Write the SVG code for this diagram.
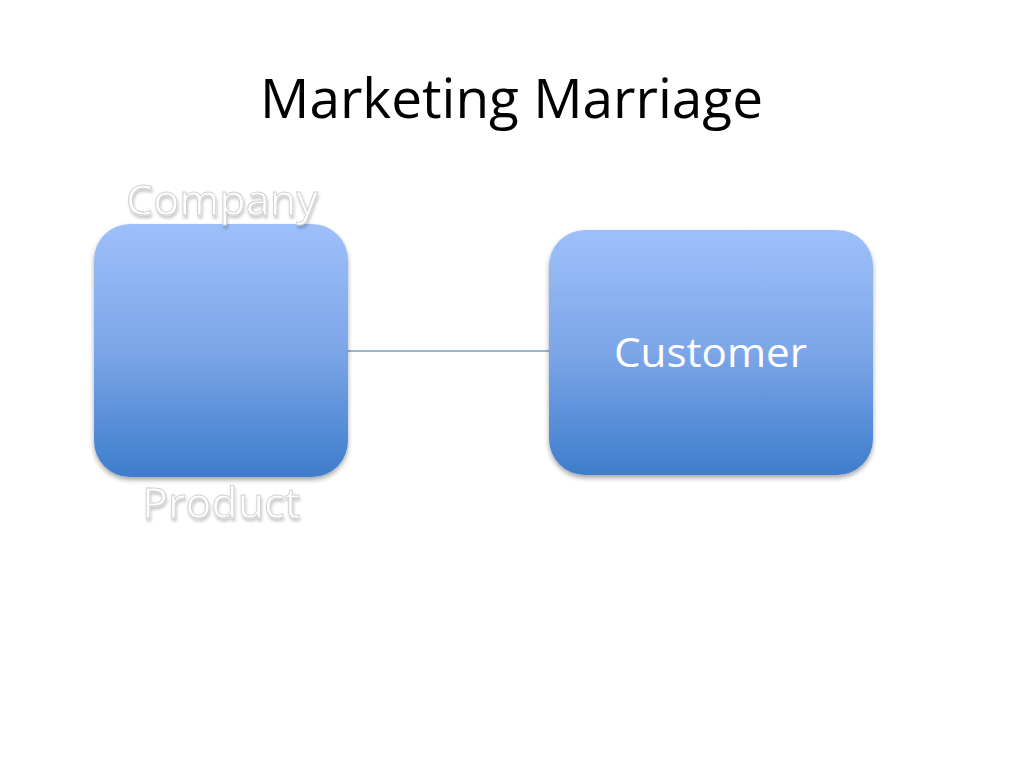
<svg xmlns="http://www.w3.org/2000/svg" width="1024" height="768" viewBox="0 0 1024 768">
  <defs>
    <linearGradient id="boxGrad" x1="0" y1="0" x2="0" y2="1">
      <stop offset="0" stop-color="#9DC0FA"/>
      <stop offset="0.5" stop-color="#7CA6E8"/>
      <stop offset="1" stop-color="#3E7DCC"/>
    </linearGradient>
    <filter id="boxShadow" x="-10%" y="-10%" width="120%" height="125%">
      <feGaussianBlur in="SourceAlpha" stdDeviation="2.5"/>
      <feOffset dx="0" dy="3" result="b"/>
      <feComponentTransfer><feFuncA type="linear" slope="0.35"/></feComponentTransfer>
      <feMerge><feMergeNode/><feMergeNode in="SourceGraphic"/></feMerge>
    </filter>
    <filter id="textShadow" x="-10%" y="-20%" width="120%" height="150%">
      <feGaussianBlur in="SourceAlpha" stdDeviation="1.5"/>
      <feOffset dx="1" dy="3"/>
      <feComponentTransfer><feFuncA type="linear" slope="0.22"/></feComponentTransfer>
      <feMerge><feMergeNode/><feMergeNode in="SourceGraphic"/></feMerge>
    </filter>
  </defs>
  <style>
    .title { font-family: "Open Sans", "Noto Sans", "Liberation Sans", sans-serif; font-size: 55px; fill: #000; }
    .box { fill: url(#boxGrad); filter: url(#boxShadow); }
    .inner { font-family: "Open Sans", "Noto Sans", "Liberation Sans", sans-serif; font-size: 41px; fill: #fff; }
    .ghost { font-family: "Open Sans", "Noto Sans", "Liberation Sans", sans-serif; font-size: 42px; fill: #fff; stroke: #d0d0d0; stroke-width: 0.9; filter: url(#textShadow); }
    .conn { stroke: #3F6B8F; stroke-width: 1.2; fill: none; }
  </style>
  <rect width="1024" height="768" fill="#fff"/>
  <text class="title" x="260" y="118" textLength="503" lengthAdjust="spacingAndGlyphs">Marketing Marriage</text>

  <g id="connectors">
    <line class="conn" x1="348" y1="351" x2="549" y2="351"/>
  </g>

  <g id="company-product">
    <rect class="box" x="94" y="224" width="254" height="253" rx="36" ry="36"/>
    <text class="ghost" x="126" y="215" textLength="192" lengthAdjust="spacingAndGlyphs">Company</text>
    <text class="ghost" x="142" y="518" textLength="158" lengthAdjust="spacingAndGlyphs">Product</text>
  </g>

  <g id="customer">
    <rect class="box" x="549" y="230" width="324" height="245" rx="36" ry="36"/>
    <text class="inner" x="614" y="367" textLength="193" lengthAdjust="spacingAndGlyphs">Customer</text>
  </g>
</svg>
